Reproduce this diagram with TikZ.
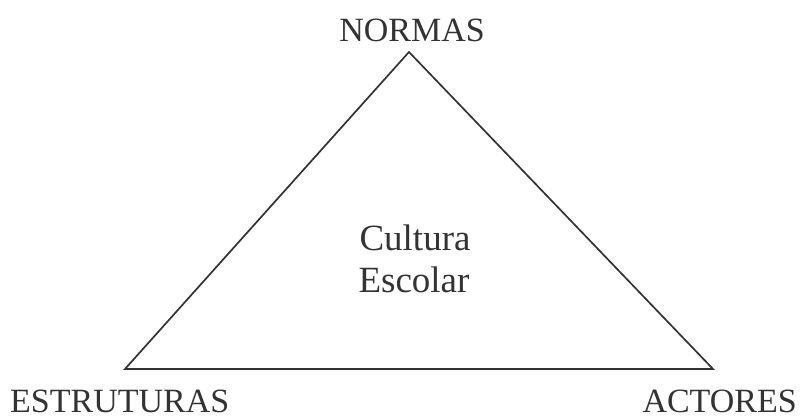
\documentclass[tikz,border=0pt]{standalone}
\usepackage{fontspec}
\setmainfont{Liberation Serif}
\definecolor{ink}{HTML}{333333}
\begin{document}
\begin{tikzpicture}[x=1pt,y=-1pt,
  lbl/.style={inner sep=0pt,text=ink,text depth=0pt,font=\fontsize{34}{34}\selectfont},
  mid/.style={inner sep=0pt,text=ink,font=\fontsize{37}{37}\selectfont},
  edge/.style={draw=ink,line width=1.7pt,line join=miter}]
\useasboundingbox (0,0) rectangle (803,417);
\coordinate (apex) at (409,52);
\coordinate (bl) at (125,369);
\coordinate (br) at (713,369);
\draw[edge] (apex) -- (bl) -- (br) -- cycle;
\node[lbl,anchor=base] (normas) at (412,42) {NORMAS};
\node[lbl,anchor=base west] (estr) at (10,412) {ESTRUTURAS};
\node[lbl,anchor=base east] (act) at (797,412) {ACTORES};
\node[mid,anchor=base] (cult) at (415,250) {Cultura};
\node[mid,anchor=base] (esc) at (414,292) {Escolar};
\end{tikzpicture}
\end{document}
